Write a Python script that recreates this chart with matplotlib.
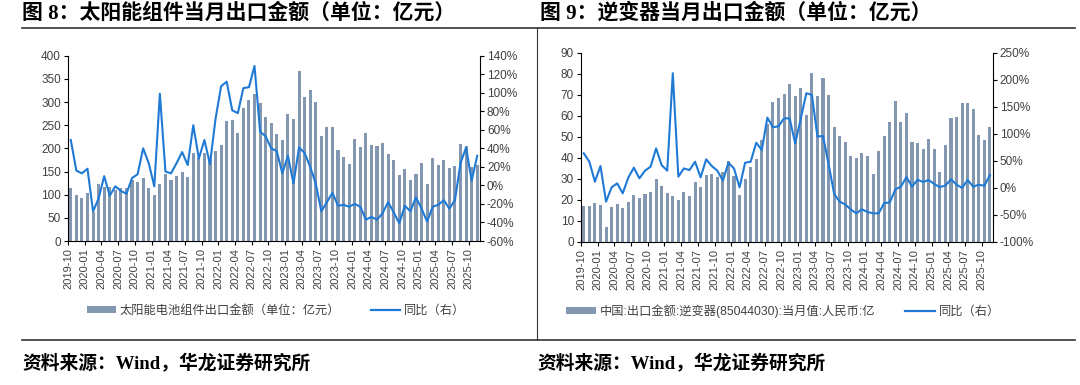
import numpy as np
import matplotlib
matplotlib.use('Agg')
import matplotlib.pyplot as plt
from matplotlib.lines import Line2D
from matplotlib.patches import Patch

plt.rcParams['font.family'] = ['Liberation Sans', 'Noto Sans CJK SC', 'DejaVu Sans']
plt.rcParams['axes.unicode_minus'] = False

# 月份: 2019-10 ~ 2025-11
months = []
y, m = 2019, 10
for _ in range(74):
    months.append(f'{y}-{m:02d}')
    m += 1
    if m > 12:
        y, m = y + 1, 1

# 图8 太阳能组件出口金额(亿元) 与 同比(%)
solar_value = [114, 99, 93, 103, 63, 124, 117, 116, 110, 114, 115, 132, 127, 137, 114, 100,
               123, 145, 132, 140, 148, 139, 189, 180, 189, 178, 194, 207, 259, 261, 234, 288,
               304, 317, 298, 268, 255, 231, 218, 274, 263, 368, 311, 327, 301, 227, 246, 247,
               197, 182, 166, 220, 202, 233, 207, 206, 211, 188, 174, 142, 155, 131, 144, 168,
               122, 179, 165, 174, 158, 161, 209, 204, 160, 165]
solar_yoy = [49, 16, 13, 18, -28, -14, 10, -11, -1, -6, -9, 8, 12, 40, 24, -1,
             99, 15, 13, 24, 36, 22, 65, 29, 49, 23, 72, 107, 112, 81, 78, 105,
             106, 129, 58, 53, 40, 37, 13, 32, 2, 41, 35, 20, 2, -28, -18, -8,
             -22, -21, -23, -20, -23, -37, -34, -37, -30, -18, -29, -41, -22, -28, -13, -25,
             -39, -23, -21, -16, -25, -16, 24, 41, 5, 32]

# 图9 逆变器出口金额(亿元) 与 同比(%)
inv_value = [17, 17.1, 18.4, 17.6, 7, 16.6, 17.9, 16.3, 19.2, 22.2, 21, 22.7, 23.6, 29.8, 26.6, 23.1,
             21.9, 20.1, 23.9, 21.7, 28.5, 26.3, 31.9, 32.2, 31, 33.1, 38.5, 31.4, 22.2, 30.1, 35.7, 39.6,
             48.3, 56, 66.7, 68.5, 70.5, 75.3, 69.3, 73, 60.4, 80.5, 69.4, 77.8, 69.7, 54.8, 50.4, 47.4,
             40.9, 39.8, 42.5, 40.9, 32.3, 43.4, 50.4, 56.9, 67, 57.2, 61.2, 47.7, 47.2, 44.2, 48.8, 44.2,
             33.1, 46.1, 58.8, 59.6, 65.9, 65.9, 63.1, 50.9, 48.5, 54.5]
inv_yoy = [64, 48.5, 11.5, 40.5, -25.4, 1, 8.4, -10, 19, 37.4, 17.7, 31.9, 39.2, 73, 42, 31.9,
           212, 20.8, 36, 33, 48.5, 19.5, 52.8, 40.5, 31.9, 13.4, 46.6, 36, 1, 46.6, 48.5, 83.6,
           70, 130, 112, 114, 128.6, 128.6, 82, 128, 175, 172, 95, 96, 44, -11, -25.4, -30.5,
           -40, -47, -39.6, -44.5, -47, -47, -28, -27, -2.7, 2.3, 20, 2.3, 15, 11,
           14.6, 7.2, 1.5, 4.5, 15.8, 6, 0, 14.6, 2.3, 6, 4, 23.8]

bar_color = '#8497B0'
line_color = '#1F7AD6'
txt_color = '#404040'

fig = plt.figure(figsize=(10.8, 3.85), dpi=100)

# 标题与边框线
title_font = ['Liberation Serif', 'Noto Sans CJK SC']
fig.text(22 / 1080, 1 - 13 / 385, '图 8：太阳能组件当月出口金额（单位：亿元）', fontsize=15,
         fontweight='bold', family=title_font, va='center', ha='left')
fig.text(540 / 1080, 1 - 13 / 385, '图 9：逆变器当月出口金额（单位：亿元）', fontsize=15,
         fontweight='bold', family=title_font, va='center', ha='left')
fig.text(22 / 1080, 1 - 364 / 385, '资料来源：Wind，华龙证券研究所', fontsize=13.5,
         fontweight='bold', family=title_font, va='center', ha='left')
fig.text(537 / 1080, 1 - 364 / 385, '资料来源：Wind，华龙证券研究所', fontsize=13.5,
         fontweight='bold', family=title_font, va='center', ha='left')
fig.add_artist(Line2D([22 / 1080, 1075 / 1080], [1 - 28 / 385, 1 - 28 / 385], color='#333333', lw=1.2))
fig.add_artist(Line2D([22 / 1080, 1075 / 1080], [1 - 340 / 385, 1 - 340 / 385], color='#333333', lw=1.2))
fig.add_artist(Line2D([537 / 1080, 537 / 1080], [1 - 28 / 385, 1 - 340 / 385], color='#333333', lw=0.8))


def draw_panel(rect, values, yoy, ylim, yticks, rlim, rticks, bar_label, legend_x):
    ax = fig.add_axes(rect)
    x = np.arange(len(values))
    ax.bar(x, values, width=0.55, color=bar_color, zorder=1)
    ax.set_xlim(-0.5, len(values) - 0.5)
    ax.set_ylim(*ylim)
    ax.set_yticks(yticks)
    tick_pos = np.arange(0, len(values), 3)
    ax.set_xticks(tick_pos - 0.5)
    ax.set_xticklabels([months[i] for i in tick_pos], rotation=90, fontsize=8, color=txt_color)
    ax.tick_params(axis='y', labelsize=8.5, colors=txt_color, length=3, width=0.8, pad=2)
    ax.tick_params(axis='x', length=3, width=0.8, pad=2, color='black')
    ax.tick_params(axis='y', color='black')
    for s in ['top', 'right']:
        ax.spines[s].set_visible(False)
    for s in ['left', 'bottom']:
        ax.spines[s].set_color('black')
        ax.spines[s].set_linewidth(0.8)

    ax2 = ax.twinx()
    ax2.plot(x, yoy, color=line_color, lw=1.5, zorder=3)
    ax2.set_ylim(*rlim)
    ax2.set_yticks(rticks)
    ax2.set_yticklabels([f'{t}%' for t in rticks])
    ax2.tick_params(axis='y', labelsize=8.5, colors=txt_color, length=3, width=0.8, pad=2)
    ax2.tick_params(axis='y', color='black')
    for s in ['top', 'left', 'bottom']:
        ax2.spines[s].set_visible(False)
    ax2.spines['right'].set_color('black')
    ax2.spines['right'].set_linewidth(0.8)

    handles = [Patch(facecolor=bar_color, edgecolor='none'),
               Line2D([0], [0], color=line_color, lw=1.6)]
    fig.legend(handles, [bar_label, '同比（右）'], loc='center', ncol=2,
               bbox_to_anchor=(legend_x, 1 - 311 / 385), frameon=False, fontsize=8.8,
               handlelength=2.4, handleheight=0.5, handletextpad=0.3, columnspacing=2.5,
               labelcolor=txt_color)
    return ax


draw_panel([68 / 1080, 1 - 241 / 385, 412 / 1080, 185.3 / 385],
           solar_value, solar_yoy, (0, 400), range(0, 401, 50),
           (-60, 140), list(range(-60, 141, 20)),
           '太阳能电池组件出口金额（单位：亿元）', 276 / 1080)

draw_panel([581 / 1080, 1 - 242 / 385, 411.7 / 1080, 189.3 / 385],
           inv_value, inv_yoy, (0, 90), range(0, 91, 10),
           (-100, 250), list(range(-100, 251, 50)),
           '中国:出口金额:逆变器(85044030):当月值:人民币:亿', 783 / 1080)

fig.savefig('out.png', dpi=100)
